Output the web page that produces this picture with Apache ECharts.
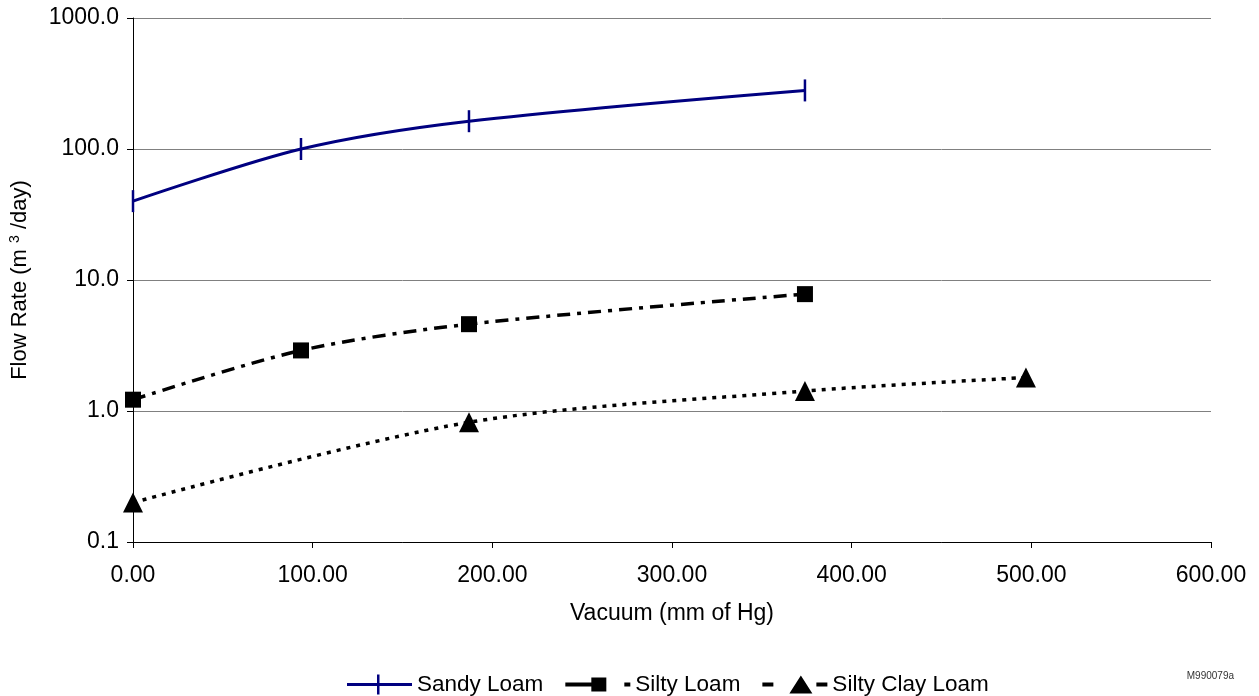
<!DOCTYPE html>
<html>
<head>
<meta charset="utf-8">
<script src="https://cdn.jsdelivr.net/npm/echarts@6/dist/echarts.min.js"></script>
<style>
  html, body { margin: 0; padding: 0; background: #fff; }
  #chart { width: 1259px; height: 696px; }
</style>
</head>
<body>
<div id="chart"></div>
<script>
// vacuum (mm of Hg) for each series
const sandyX = [0, 93.5, 187, 374];
const siltyX = [0, 93.5, 187, 374];
const clayX = [0, 187, 374, 497];
// flow rate (m3/day)
const sandyY = [40, 100, 163, 280];
const siltyY = [1.22, 2.9, 4.6, 7.8];
const clayY = [0.2, 0.82, 1.42, 1.8];
const seriesNames = ["Sandy Loam", "Silty Loam", "Silty Clay Loam"];

const zip = (xs, ys) => xs.map((x, i) => [x, ys[i]]);

const chart = echarts.init(document.getElementById("chart"));
const font = "Liberation Sans, Arial, sans-serif";

// legend keys drawn like the excel ones (line + marker)
// the "M..L..Z" zero-area bits only stretch the box to 65x20
const legendIcons = [
  "path://M0,8.5H65V11.5H0Z M30,0H32.5V20H30Z",
  "path://M0,8H27V12H0Z M26,3H41V17H26Z M59,8H65V12H59Z M32,0L32.01,0Z M32,20L32.01,20Z",
  "path://M0,8H11V12H0Z M27,19L38.5,1L50,19Z M54,8H65V12H54Z M38,0L38.01,0Z M38,20L38.01,20Z",
];

const option = {
  animation: false,
  grid: { left: 133, right: 48, top: 18, bottom: 154, outerBoundsMode: "none" },
  xAxis: {
    type: "value",
    min: 0,
    max: 600,
    interval: 100,
    name: "Vacuum (mm of Hg)",
    nameLocation: "middle",
    nameGap: 60,
    nameTextStyle: { color: "#000", fontSize: 23, fontFamily: font },
    axisLine: { lineStyle: { color: "#000", width: 1 } },
    axisTick: { show: true, length: 6, lineStyle: { color: "#000" } },
    axisLabel: {
      color: "#000",
      fontSize: 23,
      fontFamily: font,
      margin: 22,
      formatter: (v) => v.toFixed(2),
    },
    splitLine: { show: false },
  },
  yAxis: {
    type: "log",
    logBase: 10,
    min: 0.1,
    max: 1000,
    name: "{a|Flow Rate (m }{s|3}{a| /day)}",
    nameLocation: "middle",
    nameGap: 101,
    nameTextStyle: {
      rich: {
        a: { fontSize: 22, color: "#000", fontFamily: font },
        s: { fontSize: 14, color: "#000", fontFamily: font, verticalAlign: "top", padding: [0, 0, 10, 0] },
      },
    },
    axisLine: { show: true, lineStyle: { color: "#000", width: 1 } },
    axisTick: { show: true, length: 6, lineStyle: { color: "#000" } },
    axisLabel: {
      color: "#000",
      fontSize: 23,
      fontFamily: font,
      margin: 14,
      formatter: (v) => Number(v).toFixed(1),
    },
    splitLine: { lineStyle: { color: "#808080", width: 1 } },
  },
  legend: {
    top: 673,
    left: 347,
    padding: 0,
    itemWidth: 65,
    itemHeight: 20,
    itemGap: 22,
    symbolKeepAspect: false,
    itemStyle: { borderWidth: 0 },
    textStyle: { color: "#000", fontSize: 22.5, fontFamily: font },
    data: seriesNames.map((n, i) => ({ name: n, icon: legendIcons[i] })),
  },
  graphic: [
    {
      type: "text",
      right: 25,
      top: 671,
      style: { text: "M990079a", fill: "#333", font: "10px " + font },
    },
  ],
  series: [
    {
      name: seriesNames[0],
      type: "line",
      smooth: 0.3,
      data: zip(sandyX, sandyY),
      symbol: "rect",
      symbolSize: [2.5, 22],
      color: "#000080",
      lineStyle: { color: "#000080", width: 3 },
      itemStyle: { color: "#000080" },
    },
    {
      name: seriesNames[1],
      type: "line",
      smooth: 0.3,
      data: zip(siltyX, siltyY),
      symbol: "rect",
      symbolSize: 16,
      color: "#000",
      lineStyle: { color: "#000", width: 3.5, type: [13, 7, 4, 7] },
      itemStyle: { color: "#000" },
    },
    {
      name: seriesNames[2],
      type: "line",
      smooth: 0.3,
      data: zip(clayX, clayY),
      symbol: "triangle",
      symbolSize: [20, 20],
      color: "#000",
      lineStyle: { color: "#000", width: 3.5, type: [4, 6] },
      itemStyle: { color: "#000" },
    },
  ],
};

chart.setOption(option);
</script>
</body>
</html>
